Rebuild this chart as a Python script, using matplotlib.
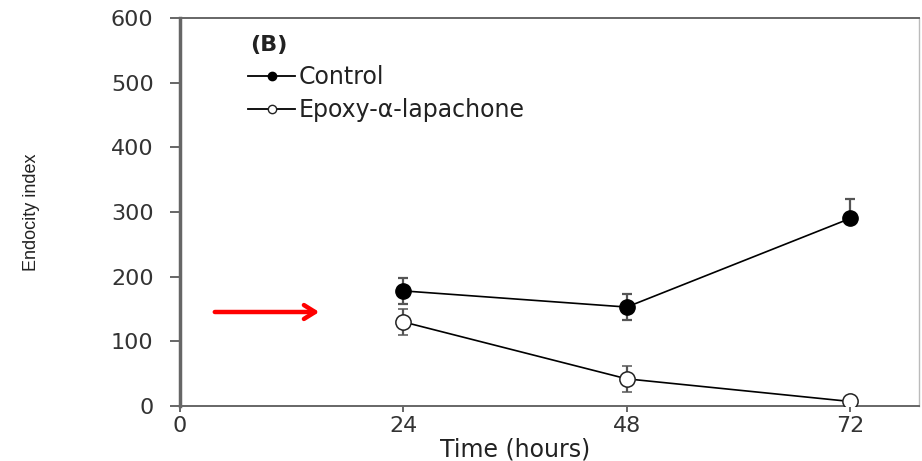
import matplotlib
matplotlib.use("Agg")
import matplotlib.pyplot as plt
from matplotlib.lines import Line2D

plt.rcParams['font.family'] = ['DejaVu Sans']

times = [24, 48, 72]
control = [178, 153, 290]
control_err_low = [20, 20, 0]
control_err_high = [20, 20, 30]
epoxy = [130, 42, 7]
epoxy_err = [20, 20, 0]
xticks = [0, 24, 48, 72]
yticks = [0, 100, 200, 300, 400, 500, 600]
labels = ['Control', 'Epoxy-α-lapachone']

W, H = 922, 461
fig = plt.figure(figsize=(W/100, H/100), dpi=100)
x0, x1, ytop, ybot = 180, 919, 18, 406
ax = fig.add_axes([x0/W, 1-ybot/H, (x1-x0)/W, (ybot-ytop)/H])

spine_col = '#666666'
err_col = '#555555'
ax.errorbar(times, control, yerr=[control_err_low, control_err_high], color='black',
            ecolor=err_col, elinewidth=1.6, capsize=3.5, capthick=1.6, marker='o',
            markersize=11, markerfacecolor='black', markeredgecolor='black', lw=1.2,
            zorder=3)
ax.errorbar(times, epoxy, yerr=epoxy_err, color='black', ecolor=err_col,
            elinewidth=1.6, capsize=3.5, capthick=1.6, marker='o', markersize=11,
            markerfacecolor='white', markeredgecolor='#222222', mew=1.1, lw=1.2,
            zorder=3)

ax.set_xlim(0, 79.4)
ax.set_ylim(0, 600)
ax.set_xticks(xticks)
ax.set_yticks(yticks)
for s in ['left', 'bottom', 'top']:
    ax.spines[s].set_color(spine_col)
    ax.spines[s].set_linewidth(1.4)
ax.spines['left'].set_linewidth(2.5)
ax.spines['right'].set_color('#bbbbbb')
ax.spines['right'].set_linewidth(1.0)
ax.tick_params(axis='both', labelcolor='#333333', color=spine_col, labelsize=16,
               width=1.4, direction='out')
ax.tick_params(axis='y', length=7, pad=12)
ax.tick_params(axis='x', length=4.5, pad=3)

ax.set_xlabel('Time (hours)', fontsize=17, color='#222222', va='center')
ax.xaxis.set_label_coords((515-x0)/(x1-x0), -(449-ybot)/(ybot-ytop))
ax.set_ylabel('Endocity index', fontsize=13, color='#222222', va='center',
              family=['Liberation Sans', 'DejaVu Sans'])
ax.yaxis.set_label_coords(-(x0-32)/(x1-x0), 0.5)

ax.text((250-x0)/(x1-x0), (ybot-45)/(ybot-ytop), '(B)', transform=ax.transAxes,
        fontsize=16, fontweight='bold', color='#222222', va='center', ha='left')

handles = [
    Line2D([], [], color='black', lw=1.3, marker='o', markersize=6,
           markerfacecolor='black', markeredgecolor='black'),
    Line2D([], [], color='black', lw=1.3, marker='o', markersize=6,
           markerfacecolor='white', markeredgecolor='#222222'),
]
leg = ax.legend(handles, labels, loc='upper left',
                bbox_to_anchor=((248-x0)/(x1-x0), (ybot-65)/(ybot-ytop)),
                frameon=False, fontsize=17, handlelength=2.0, handletextpad=0.15,
                labelspacing=0.4, borderpad=0, borderaxespad=0)
for t in leg.get_texts():
    t.set_color('#222222')

ax.annotate('', xy=(322/W, 1-312/H), xytext=(212/W, 1-312/H),
            xycoords='figure fraction', textcoords='figure fraction',
            arrowprops=dict(arrowstyle='->,head_length=0.8,head_width=0.5',
                            color='red', lw=3.2))

fig.savefig('out.png', dpi=100)
